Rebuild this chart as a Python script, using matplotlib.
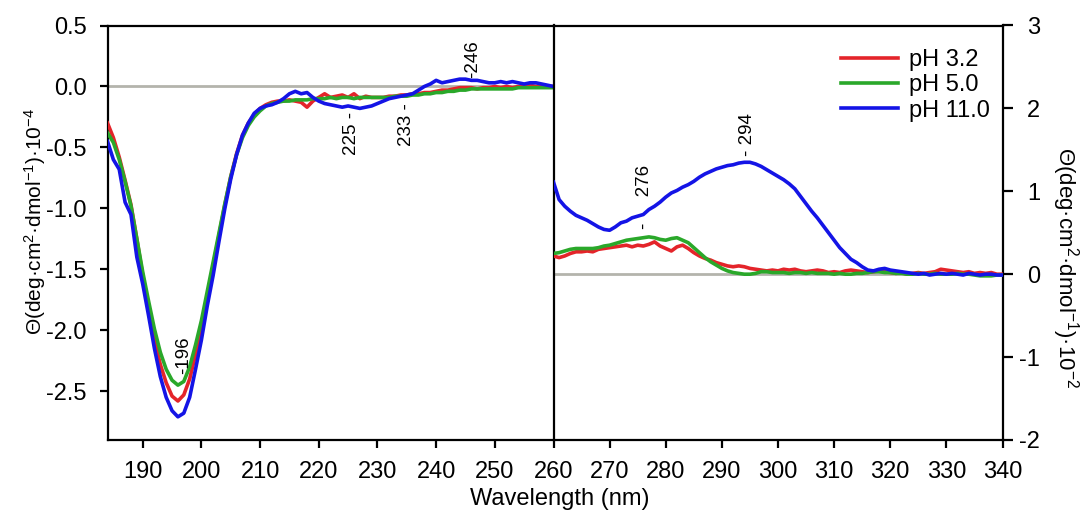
import matplotlib
matplotlib.use("Agg")
import matplotlib.pyplot as plt
from matplotlib.lines import Line2D

plt.rcParams['font.family'] = ['Liberation Sans', 'DejaVu Sans']
plt.rcParams['mathtext.fontset'] = 'custom'
plt.rcParams['mathtext.rm'] = 'Liberation Sans'
plt.rcParams['mathtext.it'] = 'Liberation Sans:italic'
plt.rcParams['axes.unicode_minus'] = False

# ---------------- data ----------------
wl_far = list(range(184, 261))
far_ph32 = [-0.30, -0.42, -0.58, -0.77, -0.97, -1.25, -1.55, -1.82, -2.08, -2.28,
            -2.43, -2.54, -2.58, -2.53, -2.40, -2.20, -1.97, -1.72, -1.47, -1.22,
            -0.97, -0.74, -0.55, -0.40, -0.30, -0.23, -0.18, -0.15, -0.13, -0.12,
            -0.12, -0.11, -0.12, -0.13, -0.17, -0.12, -0.09, -0.06, -0.09, -0.08,
            -0.07, -0.09, -0.06, -0.10, -0.08, -0.09, -0.09, -0.09, -0.08, -0.08,
            -0.07, -0.07, -0.06, -0.06, -0.05, -0.05, -0.04, -0.03, -0.03, -0.02,
            -0.01, -0.01, -0.01, -0.02, -0.01, -0.01, 0.00, -0.01, 0.00, -0.01,
            0.00, 0.00, 0.01, 0.00, 0.00, 0.00, 0.00]
far_ph50 = [-0.38, -0.46, -0.60, -0.78, -0.98, -1.25, -1.52, -1.76, -1.99, -2.18,
            -2.32, -2.41, -2.45, -2.42, -2.30, -2.12, -1.92, -1.68, -1.44, -1.20,
            -0.96, -0.74, -0.56, -0.42, -0.32, -0.25, -0.20, -0.16, -0.14, -0.13,
            -0.12, -0.12, -0.11, -0.11, -0.11, -0.10, -0.10, -0.10, -0.09, -0.10,
            -0.09, -0.09, -0.10, -0.09, -0.09, -0.09, -0.09, -0.09, -0.09, -0.08,
            -0.08, -0.08, -0.07, -0.07, -0.06, -0.06, -0.05, -0.05, -0.04, -0.04,
            -0.03, -0.03, -0.02, -0.02, -0.02, -0.02, -0.02, -0.02, -0.02, -0.02,
            -0.01, -0.01, -0.01, -0.01, -0.01, -0.01, -0.01]
far_ph110 = [-0.45, -0.60, -0.68, -0.95, -1.05, -1.40, -1.62, -1.88, -2.15, -2.38,
             -2.55, -2.66, -2.71, -2.68, -2.55, -2.32, -2.08, -1.80, -1.55, -1.27,
             -1.00, -0.76, -0.56, -0.40, -0.30, -0.22, -0.18, -0.16, -0.15, -0.13,
             -0.10, -0.06, -0.04, -0.06, -0.05, -0.09, -0.12, -0.14, -0.15, -0.16,
             -0.17, -0.16, -0.17, -0.18, -0.17, -0.16, -0.14, -0.12, -0.10, -0.09,
             -0.08, -0.07, -0.06, -0.03, 0.00, 0.02, 0.05, 0.03, 0.04, 0.05,
             0.06, 0.06, 0.05, 0.05, 0.04, 0.03, 0.03, 0.04, 0.03, 0.04,
             0.03, 0.02, 0.03, 0.03, 0.02, 0.01, 0.00]

wl_near = list(range(260, 341))
near_ph32 = [0.22, 0.20, 0.22, 0.25, 0.27, 0.27, 0.28, 0.27, 0.30, 0.31,
             0.32, 0.33, 0.34, 0.35, 0.33, 0.35, 0.34, 0.36, 0.39, 0.34,
             0.31, 0.28, 0.33, 0.35, 0.31, 0.26, 0.22, 0.19, 0.17, 0.14,
             0.12, 0.10, 0.09, 0.10, 0.09, 0.07, 0.06, 0.05, 0.04, 0.05,
             0.04, 0.06, 0.05, 0.06, 0.04, 0.03, 0.04, 0.05, 0.04, 0.02,
             0.03, 0.02, 0.04, 0.05, 0.04, 0.03, 0.02, 0.03, 0.04, 0.03,
             0.02, 0.01, 0.02, 0.00, 0.01, 0.02, 0.01, 0.02, 0.03, 0.06,
             0.05, 0.04, 0.03, 0.02, 0.03, 0.01, 0.02, 0.01, 0.02, 0.00,
             0.00]
near_ph50 = [0.25, 0.26, 0.28, 0.30, 0.31, 0.31, 0.31, 0.31, 0.32, 0.34,
             0.35, 0.37, 0.39, 0.41, 0.42, 0.43, 0.44, 0.45, 0.44, 0.42,
             0.41, 0.43, 0.44, 0.41, 0.38, 0.32, 0.26, 0.20, 0.15, 0.11,
             0.07, 0.04, 0.02, 0.01, 0.00, 0.00, 0.01, 0.03, 0.03, 0.02,
             0.02, 0.02, 0.01, 0.02, 0.02, 0.01, 0.02, 0.01, 0.01, 0.01,
             0.00, 0.01, 0.00, 0.00, 0.01, 0.01, 0.02, 0.03, 0.03, 0.02,
             0.02, 0.01, 0.01, 0.00, 0.00, 0.01, 0.00, 0.00, 0.01, 0.00,
             0.00, 0.00, 0.01, 0.00, 0.00, -0.01, -0.02, -0.02, -0.02, -0.01,
             -0.01]
near_ph110 = [1.11, 0.90, 0.82, 0.76, 0.71, 0.68, 0.65, 0.61, 0.57, 0.54,
              0.53, 0.57, 0.62, 0.64, 0.68, 0.70, 0.72, 0.78, 0.82, 0.87,
              0.93, 0.98, 1.01, 1.05, 1.08, 1.12, 1.17, 1.21, 1.24, 1.27,
              1.29, 1.31, 1.32, 1.34, 1.35, 1.35, 1.33, 1.30, 1.26, 1.22,
              1.18, 1.14, 1.09, 1.03, 0.94, 0.85, 0.76, 0.68, 0.59, 0.50,
              0.41, 0.32, 0.25, 0.18, 0.14, 0.09, 0.05, 0.04, 0.06, 0.07,
              0.05, 0.04, 0.03, 0.02, 0.01, 0.00, 0.01, -0.01, 0.00, 0.01,
              0.00, 0.01, 0.00, -0.01, 0.01, 0.00, -0.01, 0.00, 0.00, -0.01,
              -0.01]

series_labels = ['pH 3.2', 'pH 5.0', 'pH 11.0']
series_colors = ['#e4242a', '#2aa82a', '#1414e6']

far_ticks = [190, 200, 210, 220, 230, 240, 250]
far_yticks = [-2.5, -2.0, -1.5, -1.0, -0.5, 0.0, 0.5]
near_ticks = [260, 270, 280, 290, 300, 310, 320, 330, 340]
near_yticks = [-2, -1, 0, 1, 2, 3]

far_marks = [(246.2, 0.07, '-246', 'bottom'), (225.6, -0.21, '225 -', 'top'),
             (235.0, -0.14, '233 -', 'top'), (197.0, -2.36, '-196', 'bottom')]
near_marks = [(276.3, 0.54, '-     276', 'bottom'), (294.5, 1.42, '- 294', 'bottom')]

# ---------------- figure ----------------
W, H = 1081, 516
fig = plt.figure(figsize=(W / 100, H / 100), dpi=100)
top_px, bot_px = 25.5, 440
x0, xm, x1 = 107.5, 553.5, 1002.5
ax1 = fig.add_axes([x0 / W, 1 - bot_px / H, (xm - x0) / W, (bot_px - top_px) / H])
ax2 = fig.add_axes([xm / W, 1 - bot_px / H, (x1 - xm) / W, (bot_px - top_px) / H])

lw = 2.6
fs_tick = 17
for ax in (ax1, ax2):
    ax.axhline(0, color='#b4b4ac', lw=2, zorder=1)
    for s in ax.spines.values():
        s.set_linewidth(1.6)

for y, c, lab in zip([far_ph32, far_ph50, far_ph110], series_colors, series_labels):
    ax1.plot(wl_far, y, color=c, lw=lw, label=lab, zorder=3)
for y, c, lab in zip([near_ph32, near_ph50, near_ph110], series_colors, series_labels):
    ax2.plot(wl_near, y, color=c, lw=lw, label=lab, zorder=3)

ax1.set_xlim(184, 260)
ax1.set_ylim(-2.9, 0.5)
ax1.set_xticks(far_ticks)
ax1.set_yticks(far_yticks)
ax1.set_yticklabels([f'{v:.1f}' for v in far_yticks])
ax1.spines['right'].set_visible(False)
ax1.tick_params(axis='both', direction='out', length=6, width=1.6, labelsize=fs_tick)
ax1.tick_params(axis='x', pad=9)
ax1.tick_params(axis='y', pad=9)

ax2.set_xlim(260, 340)
ax2.set_ylim(-2, 3)
ax2.set_xticks(near_ticks)
ax2.set_yticks(near_yticks)
ax2.yaxis.tick_right()
ax2.tick_params(axis='both', direction='out', length=7, width=1.6, labelsize=fs_tick)
ax2.tick_params(axis='x', pad=9, length=6)
ax2.tick_params(axis='y', pad=20)
for lbl in ax2.get_yticklabels():
    lbl.set_horizontalalignment('right')

for x, y, t, va in far_marks:
    ax1.text(x, y, t, rotation=90, ha='center', va=va, fontsize=13.5)
for x, y, t, va in near_marks:
    ax2.text(x, y, t, rotation=90, ha='center', va=va, fontsize=13.5)

ylab_l = 'Θ(deg·cm$^{2}$·dmol$^{-1}$)·10$^{-4}$'
ylab_r = 'Θ(deg·cm$^{2}$·dmol$^{-1}$)·10$^{-2}$'
fig.text(35 / W, 1 - 222 / H, ylab_l, rotation=90, ha='center', va='center', fontsize=15)
fig.text(1065 / W, 1 - 268 / H, ylab_r, rotation=270, ha='center', va='center', fontsize=16)
fig.text(560 / W, 1 - 488 / H, 'Wavelength (nm)', ha='center', va='top', fontsize=17)

handles = [Line2D([], [], color=c, lw=lw) for c in series_colors]
fig.legend(handles, series_labels, loc='upper left', bbox_to_anchor=(841 / W, 1 - 49 / H),
           bbox_transform=fig.transFigure, frameon=False, fontsize=17,
           handlelength=2.4, handletextpad=0.5, labelspacing=0.14,
           borderpad=0, borderaxespad=0)

fig.savefig('out.png', dpi=100)
